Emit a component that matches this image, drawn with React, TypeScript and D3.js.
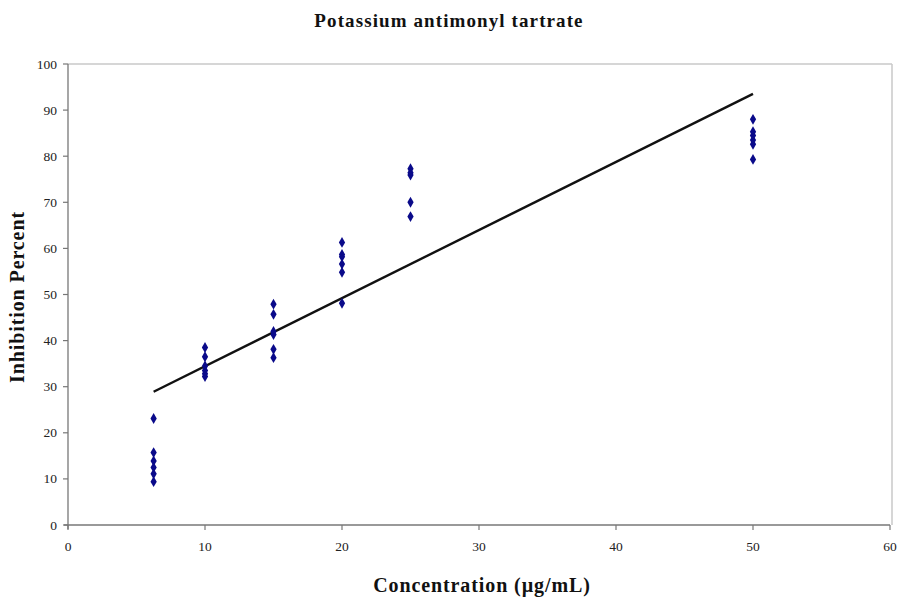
import React from "react";
import * as d3 from "d3";

const concentrations = [6.25, 10, 15, 20, 25, 50];
const inhibition: number[][] = [
  [23.1, 15.7, 13.9, 12.5, 11.1, 9.4],
  [38.5, 36.5, 34.5, 33.5, 32.8, 32.2],
  [47.9, 45.7, 42.0, 41.3, 38.1, 36.3],
  [61.3, 58.7, 58.2, 56.6, 54.8, 48.1],
  [77.3, 76.4, 75.9, 70.0, 66.9],
  [88.0, 85.3, 84.5, 83.5, 82.6, 79.3],
];
const trendSlope = 1.477;
const trendIntercept = 19.67;
const xTicks = [0, 10, 20, 30, 40, 50, 60];
const yTicks = [0, 10, 20, 30, 40, 50, 60, 70, 80, 90, 100];

export default function App() {
  const W = 901, H = 598;
  const left = 68, right = 890, top = 64, bottom = 525;
  const x = d3.scaleLinear().domain([0, 60]).range([left, right]);
  const y = d3.scaleLinear().domain([0, 100]).range([bottom, top]);
  const points = concentrations.flatMap((c, i) => inhibition[i].map((v) => ({ c, v })));
  const xMin = d3.min(concentrations)!;
  const xMax = d3.max(concentrations)!;
  const line = d3.line<number>().x((d) => x(d)).y((d) => y(trendSlope * d + trendIntercept));
  const diamond = d3.symbol().type(d3.symbolDiamond).size(34)()!;
  const font = "'Liberation Serif', 'Times New Roman', serif";
  return (
    <svg width={W} height={H} style={{ position: "absolute", left: 0, top: 0, background: "#fff" }} fontFamily={font}>
      <rect x={0} y={0} width={W} height={H} fill="#fff" />
      <text x={449} y={27} textAnchor="middle" fontSize={19} fontWeight="bold" letterSpacing={1.1} fill="#111">Potassium antimonyl tartrate</text>
      {/* plot border */}
      <line x1={left} x2={right + 2} y1={top} y2={top} stroke="#c8c8c8" strokeWidth={1.5} />
      <line x1={right + 2} x2={right + 2} y1={top} y2={bottom} stroke="#c8c8c8" strokeWidth={1.5} />
      {/* axes */}
      <line x1={left} x2={left} y1={top} y2={bottom + 4} stroke="#777" strokeWidth={1.3} />
      <line x1={left - 4} x2={right} y1={bottom} y2={bottom} stroke="#777" strokeWidth={1.3} />
      {yTicks.map((t) => (
        <g key={"y" + t}>
          <line x1={left - 5} x2={left} y1={y(t)} y2={y(t)} stroke="#777" strokeWidth={1.2} />
          <text x={left - 11} y={y(t) + 4.5} textAnchor="end" fontSize={13.5} fill="#222">{t}</text>
        </g>
      ))}
      {xTicks.map((t) => (
        <g key={"x" + t}>
          <line x1={x(t)} x2={x(t)} y1={bottom} y2={bottom + 5} stroke="#777" strokeWidth={1.2} />
          <text x={x(t)} y={bottom + 26} textAnchor="middle" fontSize={13.5} fill="#222">{t}</text>
        </g>
      ))}
      <path d={line([xMin, xMax])!} stroke="#111" strokeWidth={2.4} fill="none" />
      {points.map((p, i) => (
        <path key={i} d={diamond} transform={`translate(${x(p.c)},${y(p.v)})`} fill="#0a0a8a" />
      ))}
      <text x={482} y={592} textAnchor="middle" fontSize={20} fontWeight="bold" letterSpacing={0.9} fill="#111">Concentration (µg/mL)</text>
      <text transform={`translate(24,297) rotate(-90)`} textAnchor="middle" fontSize={20} fontWeight="bold" letterSpacing={0.9} fill="#111">Inhibition Percent</text>
    </svg>
  );
}
